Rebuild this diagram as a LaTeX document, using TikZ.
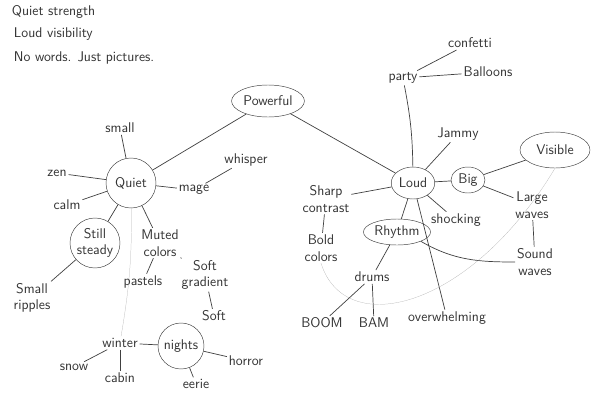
\documentclass[tikz,border=0pt]{standalone}
\usetikzlibrary{shapes.geometric}

\begin{document}
\begin{tikzpicture}[
    x=0.03cm, y=-0.03cm,
    every node/.style={font=\sffamily\large, text=black!80},
    word/.style={inner sep=1.5pt, align=center},
    bubble/.style={circle, draw=black!75, inner sep=1pt, align=center},
    oval/.style={ellipse, draw=black!75, inner sep=1pt, align=center},
    link/.style={draw=black!75, line width=0.6pt},
    faint/.style={draw=black!30, very thin}
]
\useasboundingbox (0,0) rectangle (604,410);

% notes in the corner
\node[word, anchor=west] (note1) at (10,12) {Quiet strength};
\node[word, anchor=west] (note2) at (12,34) {Loud visibility};
\node[word, anchor=west] (note3) at (12,58) {No words. Just pictures.};

% centre
\node[oval, minimum width=1.86cm, minimum height=0.96cm] (powerful) at (268,101) {Powerful};

% Quiet side
\node[bubble, minimum size=1.5cm] (quiet) at (131,183) {Quiet};
\node[word] (small) at (120,128) {small};
\node[word] (zen) at (57,173) {zen};
\node[word] (calm) at (67,205) {calm};
\node[word] (mage) at (194,190) {mage};
\node[word] (whisper) at (246,160) {whisper};
\node[bubble, minimum size=1.5cm] (still) at (95,243) {Still\\steady};
\node[word] (ripples) at (32,298) {Small\\ripples};
\node[word] (muted) at (160,243) {Muted\\colors};
\node[word] (pastels) at (143,282) {pastels};
\node[word] (gradient) at (205,275) {Soft\\gradient};
\node[word] (soft) at (214,316) {Soft};
\node[word] (winter) at (120,343) {winter};
\node[word] (snow) at (74,367) {snow};
\node[word] (cabin) at (120,378) {cabin};
\node[bubble, minimum size=1.38cm] (nights) at (181,346) {nights};
\node[word] (eerie) at (196,384) {eerie};
\node[word] (horror) at (246,361) {horror};

% Loud side
\node[oval, minimum width=1.26cm, minimum height=0.96cm] (loud) at (413,183) {Loud};
\node[word] (party) at (403,78) {party};
\node[word] (confetti) at (470,43) {confetti};
\node[word] (balloons) at (488,72) {Balloons};
\node[word] (jammy) at (458,134) {Jammy};
\node[oval, minimum width=1.02cm, minimum height=0.78cm] (big) at (468,180) {Big};
\node[oval, minimum width=2.1cm, minimum height=1.08cm] (visible) at (555,150) {Visible};
\node[word] (large) at (532,205) {Large\\waves};
\node[word] (sound) at (535,262) {Sound\\waves};
\node[word] (sharp) at (326,199) {Sharp\\contrast};
\node[word] (bold) at (321,248) {Bold\\colors};
\node[word] (shocking) at (456,220) {shocking};
\node[oval, minimum width=1.56cm, minimum height=0.78cm] (rhythm) at (397,232) {Rhythm};
\node[word] (drums) at (372,277) {drums};
\node[word] (boom) at (322,323) {BOOM};
\node[word] (bam) at (374,323) {BAM};
\node[word] (overwhelming) at (447,318) {overwhelming};

% links
\draw[link] (powerful) -- (quiet);
\draw[link] (powerful) -- (loud);

\draw[link] (quiet) -- (small);
\draw[link] (quiet) -- (zen);
\draw[link] (quiet) -- (calm);
\draw[link] (quiet) -- (mage);
\draw[link] (mage) -- (whisper);
\draw[link] (quiet) -- (still);
\draw[link] (quiet) -- (muted);
\draw[link] (still) -- (ripples);
\draw[link] (muted) -- (pastels);
\draw[link] (muted) -- (gradient);
\draw[link] (gradient) -- (soft);
\draw[faint] (quiet) to[bend left=5] (winter);
\draw[link] (winter) -- (snow);
\draw[link] (winter) -- (cabin);
\draw[link] (winter) -- (nights);
\draw[link] (nights) -- (eerie);
\draw[link] (nights) -- (horror);

\draw[link] (party) to[bend left=5] (loud);
\draw[link] (party) -- (confetti);
\draw[link] (party) -- (balloons);
\draw[link] (loud) -- (jammy);
\draw[link] (loud) -- (big);
\draw[link] (big) -- (visible);
\draw[link] (big) -- (large);
\draw[link] (large) -- (sound);
\draw[link] (loud) -- (sharp);
\draw[link] (sharp) -- (bold);
\draw[link] (loud) -- (rhythm);
\draw[link] (loud) -- (shocking);
\draw[link] (loud) -- (overwhelming);
\draw[link] (rhythm) -- (drums);
\draw[link] (rhythm.south east) to[out=-30, in=180] (sound.west);
\draw[link] (drums) -- (boom);
\draw[link] (drums) -- (bam);
\draw[faint] (bold.south) .. controls (345,340) and (470,310) .. (visible.south);

\end{tikzpicture}
\end{document}
